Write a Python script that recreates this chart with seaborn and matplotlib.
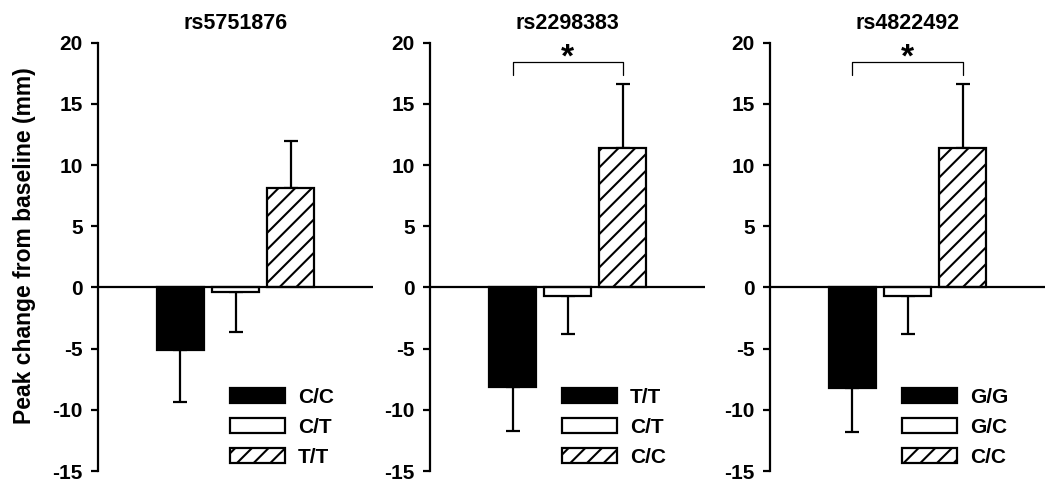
import matplotlib
matplotlib.use('Agg')
import matplotlib.pyplot as plt
import seaborn as sns
import pandas as pd

# datos
snps = ['rs5751876', 'rs2298383', 'rs4822492']
genotipos_1 = ['C/C', 'C/T', 'T/T']
genotipos_2 = ['T/T', 'C/T', 'C/C']
genotipos_3 = ['G/G', 'G/C', 'C/C']
medias_1 = [-5.1, -0.4, 8.1]
medias_2 = [-8.1, -0.7, 11.4]
medias_3 = [-8.2, -0.7, 11.4]
err_1 = [4.3, 3.2, 3.9]
err_2 = [3.6, 3.1, 5.2]
err_3 = [3.6, 3.1, 5.2]
significativo = [False, True, True]

paneles = [
    (genotipos_1, medias_1, err_1),
    (genotipos_2, medias_2, err_2),
    (genotipos_3, medias_3, err_3),
]

sns.set_style('ticks')
plt.rcParams['font.family'] = ['Liberation Sans', 'DejaVu Sans']
plt.rcParams['font.weight'] = 'bold'
plt.rcParams['hatch.linewidth'] = 1.5
plt.rcParams['axes.unicode_minus'] = False
for clave in ['text.color', 'axes.labelcolor', 'axes.edgecolor',
              'xtick.color', 'ytick.color', 'hatch.color']:
    plt.rcParams[clave] = 'black'

fig = plt.figure(figsize=(10.5, 4.98), dpi=100)
lefts = [0.0933, 0.4095, 0.7333]

for i, (gen, med, err) in enumerate(paneles):
    ax = fig.add_axes([lefts[i], 0.0542, 0.262, 0.860])
    df = pd.DataFrame({'genotipo': gen, 'valor': med})
    sns.barplot(data=df, x='genotipo', y='valor', hue='genotipo',
                palette=['black', 'white', 'white'], edgecolor='black',
                linewidth=1.6, width=0.84, errorbar=None, legend=False,
                saturation=1, ax=ax, zorder=3)
    barras = ax.patches[:3]
    barras[2].set_hatch('//')

    # barras de error de un solo lado
    abajo = [e if m < 0 else 0 for m, e in zip(med, err)]
    arriba = [e if m >= 0 else 0 for m, e in zip(med, err)]
    ax.errorbar(x=range(3), y=med, yerr=[abajo, arriba], fmt='none',
                ecolor='black', elinewidth=1.6, capsize=5, capthick=1.6, zorder=2)

    ax.axhline(0, color='black', lw=1.6, zorder=4)
    ax.set_xlim(-1.5, 3.5)
    ax.set_ylim(-15, 20)
    ax.set_yticks(range(-15, 21, 5))
    ax.set_xticks([])
    ax.set_xlabel('')
    ax.set_ylabel('')
    for s in ['top', 'right', 'bottom']:
        ax.spines[s].set_visible(False)
    ax.spines['left'].set_linewidth(1.6)
    ax.tick_params(axis='y', direction='out', length=5, width=1.6,
                   labelsize=15, pad=6)
    ax.set_title(snps[i], fontsize=15.5, fontweight='bold', pad=10)

    if significativo[i]:
        ax.plot([0, 0, 2, 2], [17.4, 18.4, 18.4, 17.4], color='black', lw=0.9)
        ax.text(1, 17.5, '*', ha='center', va='bottom', fontsize=24, fontweight='bold')

    ax.legend(barras, gen, loc='lower left', bbox_to_anchor=(0.48, 0.01),
              frameon=False, borderpad=0, borderaxespad=0,
              handlelength=2.65, handleheight=0.72, handletextpad=0.62,
              labelspacing=0.53, prop={'size': 15, 'weight': 'bold'})

    if i == 0:
        ax.set_ylabel('Peak change from baseline (mm)', fontsize=16.5,
                      fontweight='bold')
        ax.yaxis.set_label_coords(-0.225, 0.526)

plt.savefig('out.png', dpi=100)
plt.close()
